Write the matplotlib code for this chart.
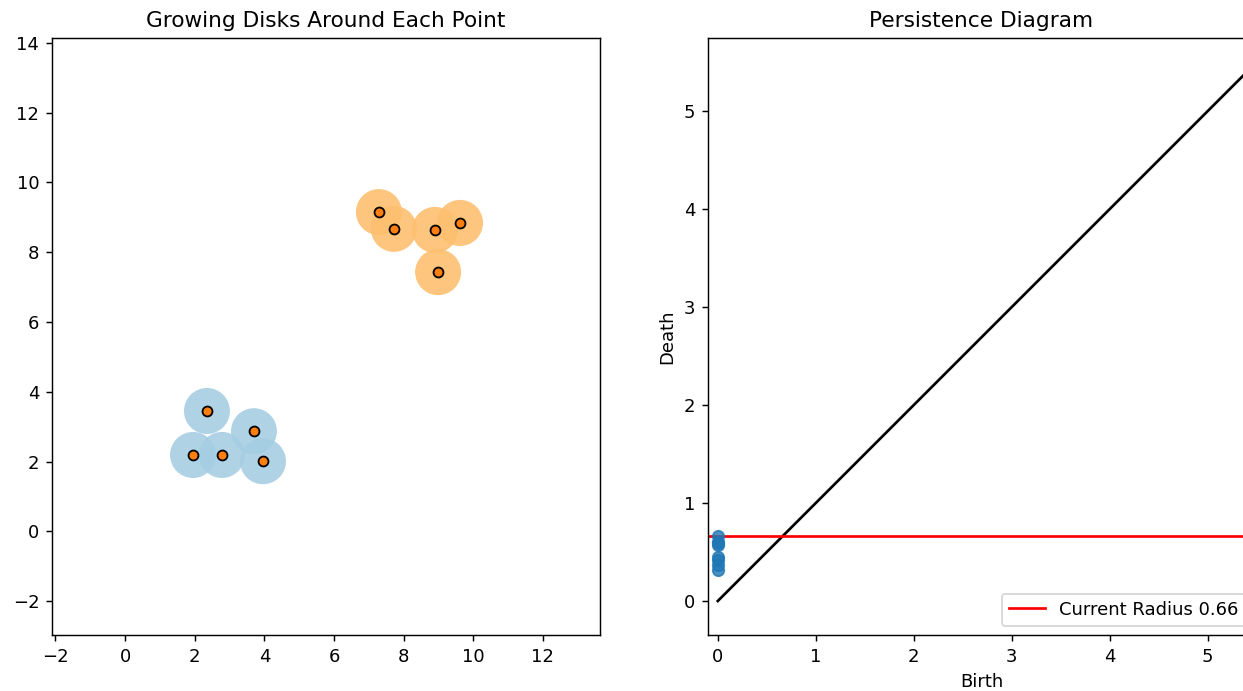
import numpy as np
import matplotlib
matplotlib.use("Agg")
import matplotlib.pyplot as plt
from matplotlib.patches import Circle

# Point cloud: two clusters
cluster_a_x = [2.35, 3.70, 1.95, 2.78, 3.96]
cluster_a_y = [3.45, 2.87, 2.19, 2.19, 2.01]
cluster_b_x = [7.29, 7.72, 8.90, 9.62, 8.99]
cluster_b_y = [9.15, 8.67, 8.64, 8.84, 7.43]

current_radius = 0.66

# H0 persistence pairs that have died by the current radius
births = [0, 0, 0, 0, 0, 0, 0, 0]
deaths = [0.32, 0.37, 0.415, 0.45, 0.57, 0.59, 0.605, 0.66]

diag_max = 6.0

DPI = 130
W, H = 1243, 691
fig = plt.figure(figsize=(W / DPI, H / DPI), dpi=DPI)
ax1 = fig.add_axes([52 / W, (H - 635) / H, 548 / W, 597 / H])
ax2 = fig.add_axes([708 / W, (H - 635) / H, 547 / W, 597 / H])

# Left: disks of the current radius around each point
for xs, ys, col in [(cluster_a_x, cluster_a_y, "#a6cee3"),
                    (cluster_b_x, cluster_b_y, "#fdbf6f")]:
    for x, y in zip(xs, ys):
        ax1.add_patch(Circle((x, y), current_radius, color=col, alpha=0.9,
                             lw=0, zorder=1))
ax1.scatter(cluster_a_x + cluster_b_x, cluster_a_y + cluster_b_y,
            s=30, c="#ff7f0e", edgecolors="black", linewidths=1.0, zorder=3)
ax1.set_xlim(-2.1, 13.64)
ax1.set_ylim(-2.97, 14.14)
ax1.set_xticks(np.arange(-2, 13, 2))
ax1.set_yticks(np.arange(-2, 15, 2))
ax1.set_title("Growing Disks Around Each Point")

# Right: persistence diagram
ax2.scatter(births, deaths, s=40, c="#1f77b4", alpha=0.8, zorder=3)
ax2.plot([0, diag_max], [0, diag_max], color="black")
ax2.axhline(current_radius, color="red",
            label=f"Current Radius {current_radius:.2f}")
ax2.set_xlim(-0.1, -0.1 + 547 / 98)
ax2.set_ylim(-0.347, 5.745)
ax2.set_xticks(range(0, 6))
ax2.set_yticks(range(0, 6))
ax2.set_xlabel("Birth")
ax2.set_ylabel("Death")
ax2.set_title("Persistence Diagram")
ax2.legend(loc="lower right")

fig.savefig("out.png", dpi=DPI)
